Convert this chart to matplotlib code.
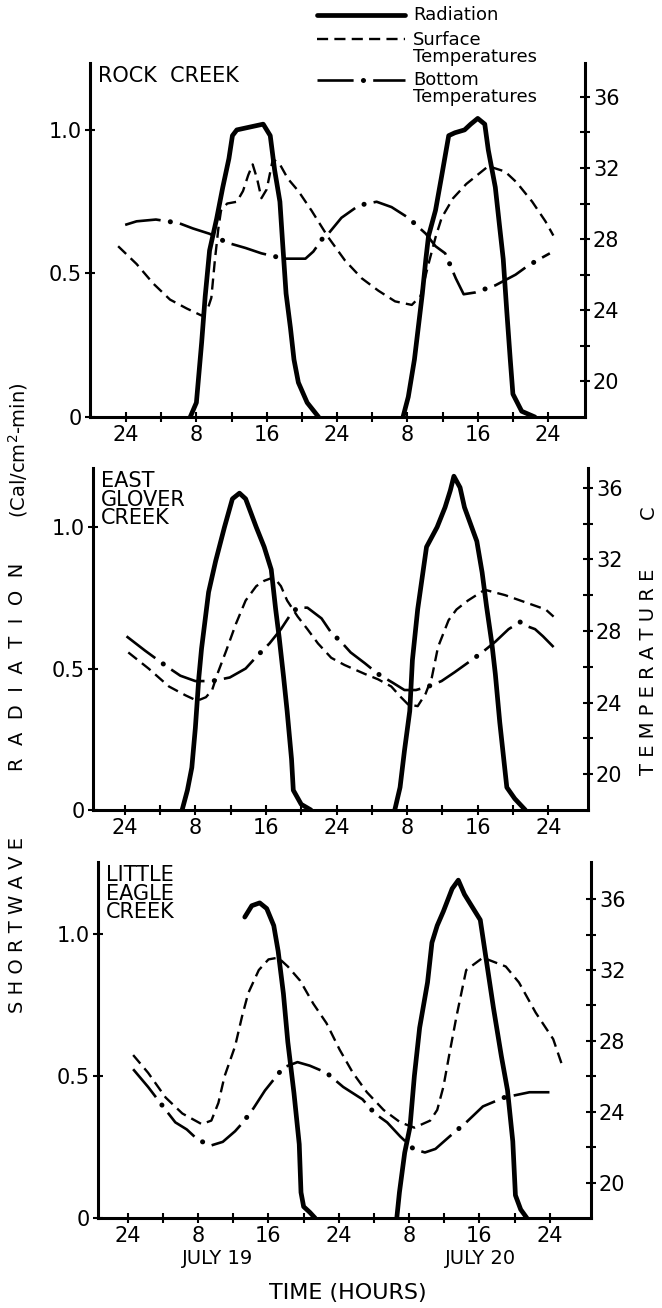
import numpy as np
import matplotlib
matplotlib.use('Agg')
from matplotlib import pyplot as plt
from matplotlib.lines import Line2D

plt.rcParams['font.family'] = ['DejaVu Sans']
plt.rcParams['lines.scale_dashes'] = False

nan = np.nan

# ===== Dados =====
# tempo em horas contado a partir da meia-noite de 18 para 19 de julho

horas_ticks = [0, 8, 16, 24, 32, 40, 48]
horas_rotulos = ['24', '8', '16', '24', '8', '16', '24']
horas_menores = [4, 12, 20, 28, 36, 44]
rad_ticks = [0, 0.5, 1.0]
rad_rotulos = ['0', '0.5', '1.0']
temp_ticks = [20, 24, 28, 32, 36]
temp_menores = [22, 26, 30, 34]

nomes = ['ROCK  CREEK', 'EAST\nGLOVER\nCREEK', 'LITTLE\nEAGLE\nCREEK']

# Rock Creek
rock_rad_h = [7.3, 8.0, 8.6, 9.0, 9.5, 10.3, 11.0, 11.7, 12.1, 12.6, 14.1, 15.6, 16.4, 16.9, 17.5, 17.8,
              18.2, 18.7, 19.1, 19.6, 20.6, 21.9, nan,
              31.5, 32.1, 32.8, 33.7, 34.1, 34.4, 35.2, 35.9, 36.7, 37.4, 38.5, 39.2, 40.0, 40.8, 41.2,
              42.0, 42.5, 42.9, 43.3, 43.7, 44.0, 45.0, 46.5]
rock_rad = [0, 0.05, 0.26, 0.42, 0.58, 0.69, 0.80, 0.90, 0.98, 1.0, 1.01, 1.02, 0.98, 0.86, 0.75, 0.61,
            0.43, 0.31, 0.20, 0.12, 0.05, 0, nan,
            0, 0.07, 0.20, 0.43, 0.55, 0.63, 0.72, 0.84, 0.98, 0.99, 1.0, 1.02, 1.04, 1.02, 0.93,
            0.80, 0.66, 0.55, 0.37, 0.20, 0.08, 0.02, 0]
rock_sup_h = [-0.9, 1.2, 3.1, 5.0, 6.9, 8.6, 9.3, 9.7, 10.1, 10.5, 10.8, 11.5, 12.6, 13.3, 13.9, 14.4,
              14.9, 15.4, 16.0, 16.7, 17.5, 18.4, 19.6, 21.1, 23.0, 24.9, 26.8, 28.7, 30.6, 32.5,
              33.5, 34.4, 35.2, 35.9, 37.2, 38.7, 41.2, 43.1, 44.4, 46.2, 47.7, 48.6]
rock_sup = [27.6, 26.6, 25.5, 24.6, 24.1, 23.7, 24.1, 24.7, 26.8, 28.6, 29.6, 30.0, 30.1, 30.7, 31.6, 32.2,
            31.4, 30.3, 30.8, 32.5, 32.2, 31.4, 30.7, 29.6, 28.1, 26.8, 25.8, 25.1, 24.5, 24.3,
            24.8, 26.6, 28.1, 29.2, 30.3, 31.1, 32.1, 31.8, 31.2, 30.1, 29.0, 28.2]
rock_fun_h = [-0.1, 1.2, 3.4, 6.0, 7.6, 9.5, 11.5, 13.6, 15.4, 18.0, 20.4, 21.3, 22.3, 23.0, 24.5,
              26.5, 28.5, 30.2, 32.1, 34.1, 35.2, 36.3, 37.5, 38.4, 39.7, 42.0, 44.3, 45.7, 47.1, 48.2]
rock_fun = [28.8, 29.0, 29.1, 28.9, 28.6, 28.3, 27.8, 27.5, 27.2, 26.9, 26.9, 27.3, 28.0, 28.3, 29.2,
            29.9, 30.1, 29.8, 29.2, 28.3, 27.6, 27.2, 25.8, 24.9, 25.0, 25.4, 26.0, 26.5, 26.9, 27.2]

# East Glover Creek
glover_rad_h = [6.5, 7.1, 7.6, 8.0, 8.4, 8.7, 9.5, 10.3, 11.3, 12.2, 13.0, 13.7, 14.9, 15.8, 16.6, 17.1,
                17.5, 18.0, 18.4, 18.9, 19.1, 20.0, 21.1, nan,
                30.6, 31.2, 31.7, 32.3, 32.6, 33.2, 33.7, 34.2, 35.4, 36.3, 36.9, 37.3, 38.0, 38.5,
                39.9, 40.5, 41.0, 41.6, 42.0, 42.5, 43.3, 44.2, 45.4]
glover_rad = [0, 0.07, 0.15, 0.29, 0.47, 0.57, 0.77, 0.88, 1.0, 1.1, 1.12, 1.1, 1.0, 0.93, 0.85, 0.71,
              0.61, 0.47, 0.35, 0.18, 0.07, 0.02, 0, nan,
              0, 0.08, 0.21, 0.35, 0.53, 0.71, 0.82, 0.93, 1.0, 1.07, 1.13, 1.18, 1.14, 1.07,
              0.95, 0.84, 0.72, 0.59, 0.48, 0.31, 0.08, 0.04, 0]
glover_sup_h = [0.4, 2.7, 5.0, 6.9, 8.2, 9.2, 9.9, 10.5, 11.5, 12.6, 13.7, 14.9, 15.8, 16.9, 17.7, 18.4,
                19.6, 20.7, 21.9, 23.4, 24.9, 27.2, 28.7, 30.2, 31.3, 32.1, 33.2, 34.1, 34.8, 35.5,
                36.7, 37.6, 38.9, 40.8, 43.1, 45.4, 47.7, 48.6]
glover_sup = [26.8, 25.9, 24.9, 24.4, 24.1, 24.3, 24.7, 25.6, 26.9, 28.4, 29.7, 30.5, 30.8, 31.0, 30.5, 29.7,
              28.8, 28.1, 27.3, 26.5, 26.1, 25.6, 25.3, 24.9, 24.3, 23.9, 23.8, 24.5, 25.4, 27.1,
              28.6, 29.2, 29.7, 30.3, 30.0, 29.6, 29.2, 28.8]
glover_fun_h = [0.2, 2.3, 4.8, 6.3, 8.0, 9.9, 11.9, 13.7, 15.0, 16.4, 17.7, 18.9, 19.6, 20.7, 22.3,
                23.4, 24.5, 25.6, 27.2, 28.7, 30.4, 31.7, 33.0, 34.4, 35.9, 37.4, 39.1, 40.5, 42.0,
                43.5, 44.8, 45.4, 46.5, 47.4, 48.6]
glover_fun = [27.7, 26.9, 26.0, 25.5, 25.2, 25.2, 25.4, 25.9, 26.6, 27.3, 28.1, 29.0, 29.3, 29.3, 28.7,
              27.9, 27.4, 26.8, 26.2, 25.6, 25.1, 24.7, 24.7, 24.9, 25.2, 25.7, 26.3, 26.8, 27.4,
              28.1, 28.5, 28.3, 28.1, 27.7, 27.1]

# Little Eagle Creek
eagle_rad_h = [13.3, 14.1, 15.0, 15.8, 16.6, 17.1, 17.7, 18.2, 18.9, 19.5, 19.7, 20.0, 20.7, 21.3, nan,
               30.6, 30.9, 31.5, 32.1, 32.6, 33.2, 34.1, 34.6, 35.2, 35.9, 36.9, 37.6, 38.3, 40.1,
               41.6, 42.5, 43.2, 43.8, 44.1, 44.7, 45.4]
eagle_rad = [1.06, 1.10, 1.11, 1.09, 1.03, 0.94, 0.79, 0.62, 0.44, 0.26, 0.09, 0.04, 0.02, 0, nan,
             0, 0.09, 0.23, 0.32, 0.50, 0.67, 0.83, 0.97, 1.03, 1.08, 1.16, 1.19, 1.14, 1.05,
             0.74, 0.57, 0.45, 0.27, 0.08, 0.03, 0]
eagle_sup_h = [0.6, 2.3, 4.3, 6.2, 8.4, 9.5, 10.3, 11.0, 12.2, 13.0, 13.7, 14.9, 16.0, 17.1, 18.2, 19.6,
               21.1, 22.6, 24.1, 25.6, 27.2, 29.1, 31.0, 32.6, 34.4, 35.2, 35.9, 36.6, 37.4, 38.2,
               38.5, 40.4, 43.0, 44.5, 46.4, 48.4, 49.5]
eagle_sup = [27.2, 26.2, 24.8, 23.9, 23.3, 23.5, 24.5, 26.0, 27.7, 29.4, 30.7, 32.0, 32.6, 32.7, 32.2, 31.4,
             30.1, 29.0, 27.5, 26.2, 25.1, 24.1, 23.4, 23.1, 23.5, 24.1, 25.4, 27.3, 29.4, 31.3,
             32.0, 32.7, 32.2, 31.3, 29.6, 28.1, 26.5]
eagle_fun_h = [0.6, 2.3, 4.3, 5.4, 6.7, 8.0, 9.5, 10.8, 12.2, 13.1, 14.3, 15.6, 17.7, 19.3, 20.7,
               22.6, 24.5, 26.7, 28.1, 29.5, 31.0, 32.5, 33.8, 35.0, 36.6, 38.5, 40.4, 42.8, 45.7, 49.0]
eagle_fun = [26.4, 25.4, 24.1, 23.4, 23.0, 22.4, 22.1, 22.3, 22.9, 23.4, 24.2, 25.2, 26.5, 26.8, 26.6,
             26.2, 25.4, 24.7, 23.9, 23.4, 22.6, 21.9, 21.7, 21.9, 22.6, 23.4, 24.3, 24.8, 25.1, 25.1]

riachos = [
    (rock_rad_h, rock_rad, rock_sup_h, rock_sup, rock_fun_h, rock_fun),
    (glover_rad_h, glover_rad, glover_sup_h, glover_sup, glover_fun_h, glover_fun),
    (eagle_rad_h, eagle_rad, eagle_sup_h, eagle_sup, eagle_fun_h, eagle_fun),
]

# ===== Layout (pixels da figura) =====
W, H = 662, 1308
# caixa (esq, topo, dir, base), limites de x, y da radiacao e y da temperatura
caixas = [(90, 63, 585, 417), (93, 468, 588, 810), (98, 862, 591, 1218)]
lim_x = [(-4.1, 52.2), (-3.6, 52.5), (-3.4, 52.7)]
lim_rad = [(0, 1.233), (0, 1.209), (0, 1.254)]
lim_temp = [(18.0, 37.9), (18.0, 37.1), (18.0, 38.1)]

estilo_rad = dict(color='black', lw=3.4, solid_capstyle='round', solid_joinstyle='round')
estilo_sup = dict(color='black', lw=1.7, linestyle=(0, (8, 4.5)))
# traco-ponto: tracos longos numa linha e pontos grossos noutra, com o mesmo periodo
estilo_fun_traco = dict(color='black', lw=1.9, linestyle=(0, (26, 14.1)))
estilo_fun_ponto = dict(color='black', lw=3.6, linestyle=(7.05, (0.1, 40.0)), dash_capstyle='round')

fig = plt.figure(figsize=(W / 100, H / 100), dpi=100)


def texto(x, y, s, **kw):
    fig.text(x / W, 1 - y / H, s, **kw)


for i in range(3):
    esq, topo, dir_, base = caixas[i]
    ax = fig.add_axes([esq / W, 1 - base / H, (dir_ - esq) / W, (base - topo) / H])
    ax2 = ax.twinx()

    rad_h, rad, sup_h, sup, fun_h, fun = riachos[i]
    ax.plot(rad_h, rad, **estilo_rad)
    ax2.plot(sup_h, sup, **estilo_sup)
    ax2.plot(fun_h, fun, **estilo_fun_traco)
    ax2.plot(fun_h, fun, **estilo_fun_ponto)

    ax.set_xlim(*lim_x[i])
    ax.set_ylim(*lim_rad[i])
    ax2.set_ylim(*lim_temp[i])

    ax.set_xticks(horas_ticks)
    ax.set_xticklabels(horas_rotulos)
    ax.set_xticks(horas_menores, minor=True)
    ax.set_yticks(rad_ticks)
    ax.set_yticklabels(rad_rotulos)
    ax2.set_yticks(temp_ticks)
    ax2.set_yticks(temp_menores, minor=True)

    ax.tick_params(axis='both', which='both', direction='inout', length=7.5, width=1.5,
                   labelsize=15, pad=2)
    ax2.tick_params(axis='y', which='both', direction='inout', length=7.5, width=1.5,
                    labelsize=15, pad=2)

    for s in ['top', 'right']:
        ax.spines[s].set_visible(False)
    for s in ['top', 'left', 'bottom']:
        ax2.spines[s].set_visible(False)
    for s in ['left', 'bottom']:
        ax.spines[s].set_linewidth(2.2)
    ax2.spines['right'].set_linewidth(2.2)

    tx = esq + 8
    texto(tx, topo + 3, nomes[i], ha='left', va='top', fontsize=15, linespacing=0.92)

# ===== Legenda =====
leg_x1, leg_x2 = 317, 405
for y, estilos in [(15, [estilo_rad]), (39, [estilo_sup]), (80, [estilo_fun_traco, estilo_fun_ponto])]:
    for est in estilos:
        fig.add_artist(Line2D([leg_x1 / W, leg_x2 / W], [1 - y / H, 1 - y / H],
                              transform=fig.transFigure, **est))
texto(413, 15, 'Radiation', ha='left', va='center', fontsize=13)
texto(413, 40, 'Surface', ha='left', va='center', fontsize=13)
texto(413, 57, 'Temperatures', ha='left', va='center', fontsize=13)
texto(413, 80, 'Bottom', ha='left', va='center', fontsize=13)
texto(413, 97, 'Temperatures', ha='left', va='center', fontsize=13)

# ===== Rotulos dos eixos =====
texto(18, 925, 'S H O R T W A V E', rotation=90, ha='center', va='center', fontsize=14)
texto(18, 667, 'R  A  D  I  A  T  I  O  N', rotation=90, ha='center', va='center', fontsize=14)
texto(18, 450, '(Cal/cm$^2$-min)', rotation=90, ha='center', va='center', fontsize=14)
texto(648, 672, 'T E M P E R A T U R E', rotation=90, ha='center', va='center', fontsize=14)
texto(648, 512, 'C', rotation=90, ha='center', va='center', fontsize=14)

texto(218, 1258, 'JULY 19', ha='center', va='center', fontsize=14)
texto(480, 1258, 'JULY 20', ha='center', va='center', fontsize=14)
texto(348, 1293, 'TIME (HOURS)', ha='center', va='center', fontsize=16)

fig.savefig('out.png', dpi=100)
